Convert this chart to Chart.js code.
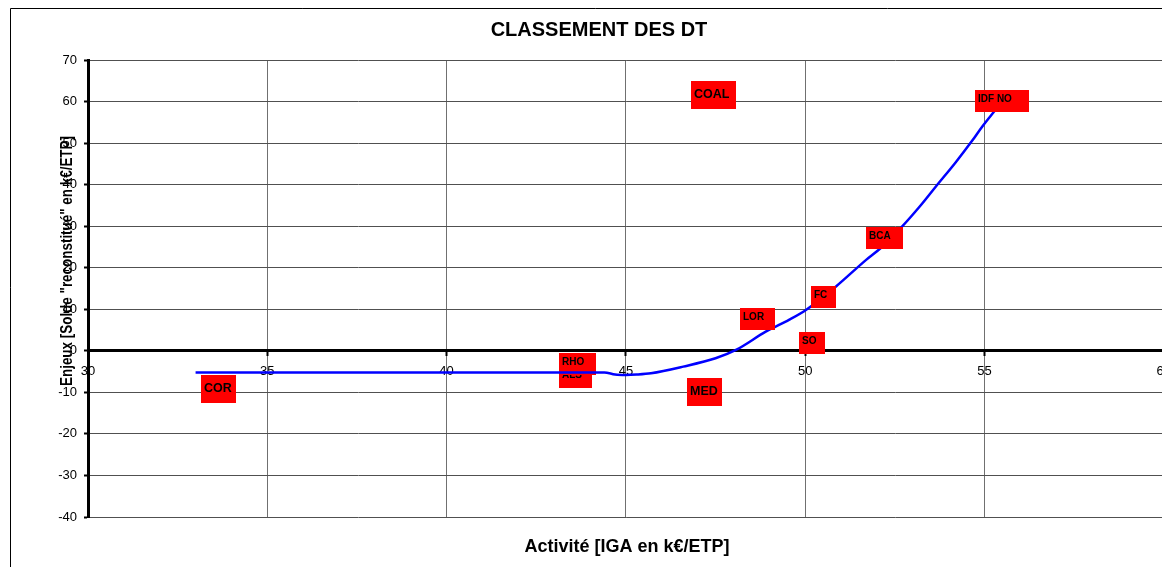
<!DOCTYPE html>
<html>
<head>
<meta charset="utf-8">
<script src="https://cdn.jsdelivr.net/npm/chart.js@4.4.0/dist/chart.umd.min.js"></script>
<style>
  html, body { margin: 0; padding: 0; background: #fff; overflow: hidden; }
  #wrap { width: 1180px; height: 567px; }
</style>
</head>
<body>
<div id="wrap"><canvas id="classement" width="1180" height="567"></canvas></div>
<script>
// DT : activité (IGA) en x, enjeux (solde reconstitué) en y
const dtNames  = ['COR', 'ALS', 'RHO', 'MED', 'COAL', 'LOR', 'SO', 'FC', 'BCA', 'IDF NO'];
const activite = [33.64, 43.60, 43.66, 47.20, 47.45, 48.67, 50.19, 50.51, 52.21, 55.49];
const enjeux   = [-9.3, -6.4, -3.2, -9.9, 61.6, 7.7, 1.8, 13.0, 27.2, 60.2];

// courbe de tendance
const courbeX = [33.0, 35, 40, 44.4, 44.7, 45.0, 45.3, 45.7, 46.6, 47.5, 48.07, 48.9, 49.56, 50.03, 50.86, 51.7, 52.1, 52.7, 53.2, 53.64, 54.2, 54.66, 54.94, 55.27, 55.45];
const courbeY = [-5.2, -5.2, -5.2, -5.2, -5.7, -5.8, -5.7, -5.4, -3.8, -1.8, 0.2, 4.6, 7.5, 9.9, 15.5, 21.9, 24.7, 29.9, 34.8, 39.5, 45.4, 50.6, 54.0, 57.6, 59.5];

const xTicks = [30, 35, 40, 45, 50, 55, 60];
const yTicks = [-40, -30, -20, -10, 0, 10, 20, 30, 40, 50, 60, 70];

// style des étiquettes
const bigLabels = ['COR', 'MED', 'COAL'];
const underCurve = ['ALS', 'RHO'];
const boxW = { 'COR': 35, 'ALS': 33, 'RHO': 37, 'MED': 35, 'COAL': 45, 'LOR': 35, 'SO': 26, 'FC': 25, 'BCA': 37, 'IDF NO': 54 };

const FONT = '"Liberation Sans", Arial, sans-serif';

function drawLabels(chart, under) {
  const ctx = chart.ctx;
  const pts = chart.getDatasetMeta(1).data;
  ctx.save();
  dtNames.forEach((name, i) => {
    if (underCurve.includes(name) !== under) return;
    const big = bigLabels.includes(name);
    const h = big ? 28 : 22;
    const w = boxW[name];
    const left = Math.round(pts[i].x - w / 2);
    const top = Math.round(pts[i].y - h / 2);
    ctx.fillStyle = '#ff0000';
    ctx.fillRect(left, top, w, h);
    ctx.fillStyle = '#000';
    ctx.font = 'bold ' + (big ? 12.5 : 10) + 'px ' + FONT;
    ctx.textAlign = 'left';
    ctx.textBaseline = 'alphabetic';
    ctx.fillText(name, left + 3, top + (big ? 17 : 12));
  });
  ctx.restore();
}

const decor = {
  id: 'decor',
  beforeDraw(chart) {
    const ctx = chart.ctx;
    ctx.save();
    ctx.fillStyle = '#fff';
    ctx.fillRect(0, 0, chart.width, chart.height);
    ctx.strokeStyle = '#000';
    ctx.lineWidth = 1;
    ctx.beginPath();
    ctx.moveTo(10.5, chart.height);
    ctx.lineTo(10.5, 8.5);
    ctx.lineTo(chart.width, 8.5);
    ctx.stroke();
    ctx.restore();
  },
  beforeDatasetsDraw(chart) {
    drawLabels(chart, true);
  },
  afterDatasetsDraw(chart) {
    drawLabels(chart, false);
  },
  afterDraw(chart) {
    const ctx = chart.ctx;
    ctx.save();
    ctx.fillStyle = '#000';
    ctx.textAlign = 'center';
    ctx.textBaseline = 'alphabetic';
    ctx.font = 'bold 20px ' + FONT;
    ctx.fillText('CLASSEMENT DES DT', 599, 36);
    ctx.font = 'bold 18px ' + FONT;
    ctx.fillText('Activité [IGA en k€/ETP]', 627, 552);
    // titre vertical, un peu comprimé comme dans l'original
    ctx.font = 'bold 17px ' + FONT;
    const yTitle = 'Enjeux [Solde "reconstitué" en k€/ETP]';
    const tw = ctx.measureText(yTitle).width;
    ctx.translate(72, 261);
    ctx.rotate(-Math.PI / 2);
    ctx.scale(250 / tw, 1);
    ctx.fillText(yTitle, 0, 0);
    ctx.restore();
  }
};

const ctx = document.getElementById('classement').getContext('2d');
new Chart(ctx, {
  type: 'scatter',
  data: {
    datasets: [
      {
        label: 'Tendance',
        data: courbeX.map((x, i) => ({ x: x, y: courbeY[i] })),
        showLine: true,
        borderColor: '#0000ff',
        borderWidth: 2.5,
        pointRadius: 0,
        cubicInterpolationMode: 'monotone'
      },
      {
        label: 'DT',
        data: activite.map((x, i) => ({ x: x, y: enjeux[i] })),
        pointRadius: 0,
        showLine: false
      }
    ]
  },
  options: {
    responsive: false,
    animation: false,
    layout: { padding: { left: 0, top: 60, right: 15, bottom: 50 } },
    plugins: {
      legend: { display: false },
      tooltip: { enabled: false },
      title: { display: false }
    },
    scales: {
      x: {
        type: 'linear',
        min: 30,
        max: 60,
        position: { y: 0 },
        afterBuildTicks: s => { s.ticks = xTicks.map(v => ({ value: v })); },
        grid: { color: '#707070', lineWidth: 1, tickLength: 4, tickColor: '#000', tickWidth: 2 },
        border: { color: '#000', width: 3 },
        ticks: { color: '#000', font: { family: FONT, size: 13 }, padding: 9, maxRotation: 0, autoSkip: false }
      },
      y: {
        type: 'linear',
        min: -40,
        max: 70,
        position: 'left',
        afterFit: s => { s.width = 88; },
        afterBuildTicks: s => { s.ticks = yTicks.map(v => ({ value: v })); },
        grid: { color: '#505050', lineWidth: 1, tickLength: 4, tickColor: '#000', tickWidth: 2 },
        border: { color: '#000', width: 3 },
        ticks: { color: '#000', font: { family: FONT, size: 13 }, padding: 7, autoSkip: false }
      }
    }
  },
  plugins: [decor]
});
</script>
</body>
</html>
